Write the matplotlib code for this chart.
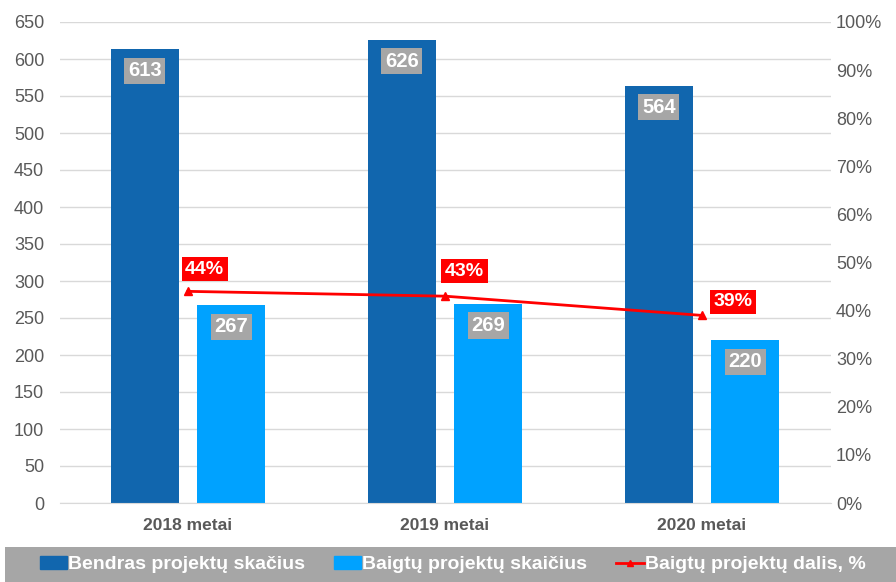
import matplotlib.pyplot as plt
import numpy as np
from matplotlib.lines import Line2D
from matplotlib.patches import Patch

years = ["2018 metai", "2019 metai", "2020 metai"]
total = [613, 626, 564]
finished = [267, 269, 220]
share = [44, 43, 39]

dark_blue = "#1166AE"
light_blue = "#00A2FF"
grey_txt = "#595959"
label_bg = "#A6A6A6"

plt.rcParams["font.family"] = ["Liberation Sans", "DejaVu Sans"]

fig = plt.figure(figsize=(8.96, 5.82), dpi=100)
ax = fig.add_axes([59.5 / 896, 79 / 582, 771 / 896, 481 / 582])

x = np.arange(len(years))
w = 0.265
off = 0.168
b1 = ax.bar(x - off, total, w, color=dark_blue, zorder=2)
b2 = ax.bar(x + off, finished, w, color=light_blue, zorder=2)

for bars, vals in [(b1, total), (b2, finished)]:
    for b, v in zip(bars, vals):
        ax.annotate(str(v), (b.get_x() + b.get_width() / 2, v),
                    xytext=(0, -15.5), textcoords="offset points",
                    ha="center", va="center", color="white",
                    fontsize=14.5, fontweight="bold", zorder=5,
                    bbox=dict(boxstyle="square,pad=0.18", fc=label_bg, ec="none"))

ax.set_xlim(-0.5, 2.5)
ax.set_ylim(0, 650)
ax.set_yticks(range(0, 651, 50))
ax.set_xticks(x)
ax.set_xticklabels(years, fontweight="bold")
ax.grid(axis="y", color="#D9D9D9", lw=1, zorder=0)
for s in ["top", "right", "left"]:
    ax.spines[s].set_visible(False)
ax.spines["bottom"].set_color("#D9D9D9")
ax.tick_params(axis="both", length=0, colors=grey_txt, labelsize=13)
ax.tick_params(axis="x", pad=11, labelsize=12.5)
ax.tick_params(axis="y", pad=11)

ax2 = ax.twinx()
ax2.set_ylim(0, 100)
ax2.set_yticks(range(0, 101, 10))
ax2.set_yticklabels([f"{t}%" for t in range(0, 101, 10)])
for s in ax2.spines.values():
    s.set_visible(False)
ax2.tick_params(axis="y", length=0, colors=grey_txt, labelsize=13, pad=4)

ax2.plot(x, share, color="#FF0000", lw=2, marker="^", ms=6, zorder=4)
label_offsets = [(12, 16), (14, 18), (22, 10)]
for xi, v, o in zip(x, share, label_offsets):
    ax2.annotate(f"{v}%", (xi, v), xytext=o, textcoords="offset points",
                 ha="center", va="center", color="white", fontsize=14,
                 fontweight="bold",
                 bbox=dict(boxstyle="square,pad=0.18", fc="#FF0000", ec="none"))

# legend band
fig.patches.append(plt.Rectangle((5 / 896, 0), 891 / 896, 35 / 582,
                                 transform=fig.transFigure, fc="#A6A6A6",
                                 ec="none", zorder=0))
handles = [Patch(color=dark_blue), Patch(color=light_blue),
           Line2D([], [], color="#FF0000", lw=2, marker="^", ms=5)]
names = ["Bendras projektų skačius", "Baigtų projektų skaičius",
         "Baigtų projektų dalis, %"]
leg = fig.legend(handles, names, loc="center", bbox_to_anchor=(0.505, 17.5 / 582),
                 ncol=3, frameon=False, handlelength=1.4, handletextpad=0.05,
                 columnspacing=1.5,
                 prop={"family": ["Liberation Sans Narrow", "Liberation Sans"],
                       "weight": "bold", "size": 14})
for t in leg.get_texts():
    t.set_color("white")

fig.savefig("out.png", dpi=100)
